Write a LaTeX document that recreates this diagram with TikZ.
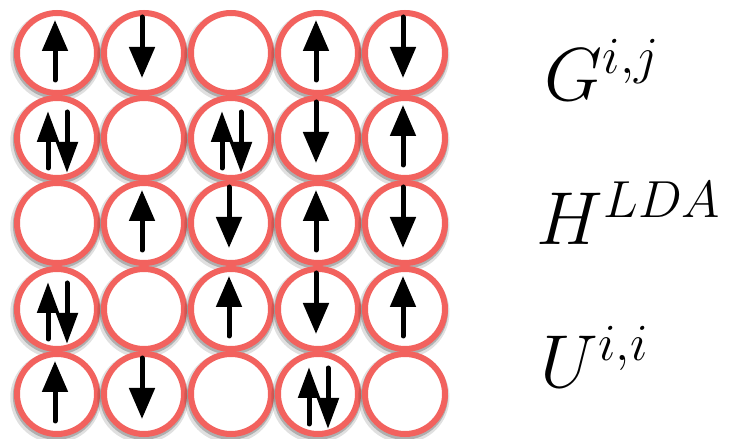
\documentclass[tikz,border=0pt]{standalone}
\usepackage{amsmath}
\usetikzlibrary{arrows.meta,calc,shadows}
\definecolor{cRing}{HTML}{F2625E}
\definecolor{cSpin}{HTML}{000000}
\tikzset{
  site/.style={circle, draw=cRing, line width=6pt, fill=white, minimum size=80pt, inner sep=0pt,
     drop shadow={shadow xshift=-1pt, shadow yshift=-3pt, shadow scale=1.14, opacity=0.12, fill=black},
     drop shadow={shadow xshift=-0.5pt, shadow yshift=-2pt, shadow scale=1.09, opacity=0.22, fill=black}},
  spin/.style={-{Triangle[length=31pt,width=25pt]}, line width=5pt, line cap=round, draw=cSpin, fill=cSpin},
  dspin/.style={spin, -{Triangle[length=31pt,width=21pt]}},
  lbl/.style={anchor=base west, inner sep=0pt, font=\fontsize{20.74}{25}\selectfont, scale=3.62, transform shape},
}
\newcommand{\spinup}[1]{\draw[spin] ($(#1)+(-2,-27)$) -- ($(#1)+(-2,33)$);}
\newcommand{\spindn}[1]{\draw[spin] ($(#1)+(-2,36)$) -- ($(#1)+(-2,-25)$);}
\newcommand{\spinud}[1]{%
\draw[dspin] ($(#1)+(-9,-30)$) -- ($(#1)+(-9,27)$);
\draw[dspin] ($(#1)+(10,26)$) -- ($(#1)+(10,-35)$);}

\begin{document}
\begin{tikzpicture}[x=1pt, y=1pt]
\useasboundingbox (0,0) rectangle (734,439);
% lattice sites
\node[site] (s11) at (57,386) {};  \node[site] (s12) at (144,386) {}; \node[site] (s13) at (231,386) {}; \node[site] (s14) at (318,386) {}; \node[site] (s15) at (405,386) {};
\node[site] (s21) at (57,301) {};  \node[site] (s22) at (144,301) {}; \node[site] (s23) at (231,301) {}; \node[site] (s24) at (318,301) {}; \node[site] (s25) at (405,301) {};
\node[site] (s31) at (57,216) {};  \node[site] (s32) at (144,216) {}; \node[site] (s33) at (231,216) {}; \node[site] (s34) at (318,216) {}; \node[site] (s35) at (405,216) {};
\node[site] (s41) at (57,130) {};  \node[site] (s42) at (144,130) {}; \node[site] (s43) at (231,130) {}; \node[site] (s44) at (318,130) {}; \node[site] (s45) at (405,130) {};
\node[site] (s51) at (57,45) {};   \node[site] (s52) at (144,45) {};  \node[site] (s53) at (231,45) {};  \node[site] (s54) at (318,45) {};  \node[site] (s55) at (405,45) {};
% spins
\spinup{s11} \spindn{s12} \spinup{s14} \spindn{s15}
\spinud{s21} \spinud{s23} \spindn{s24} \spinup{s25}
\spinup{s32} \spindn{s33} \spinup{s34} \spindn{s35}
\spinud{s41} \spinup{s43} \spindn{s44} \spinup{s45}
\spinup{s51} \spindn{s52} \spinud{s54}
% labels
\node[lbl] (lG) at (544,338) {$G^{i,j}$};
\node[lbl] (lH) at (536,194) {$H^{LDA}$};
\node[lbl] (lU) at (540,51) {$U^{i,i}$};
\end{tikzpicture}
\end{document}
